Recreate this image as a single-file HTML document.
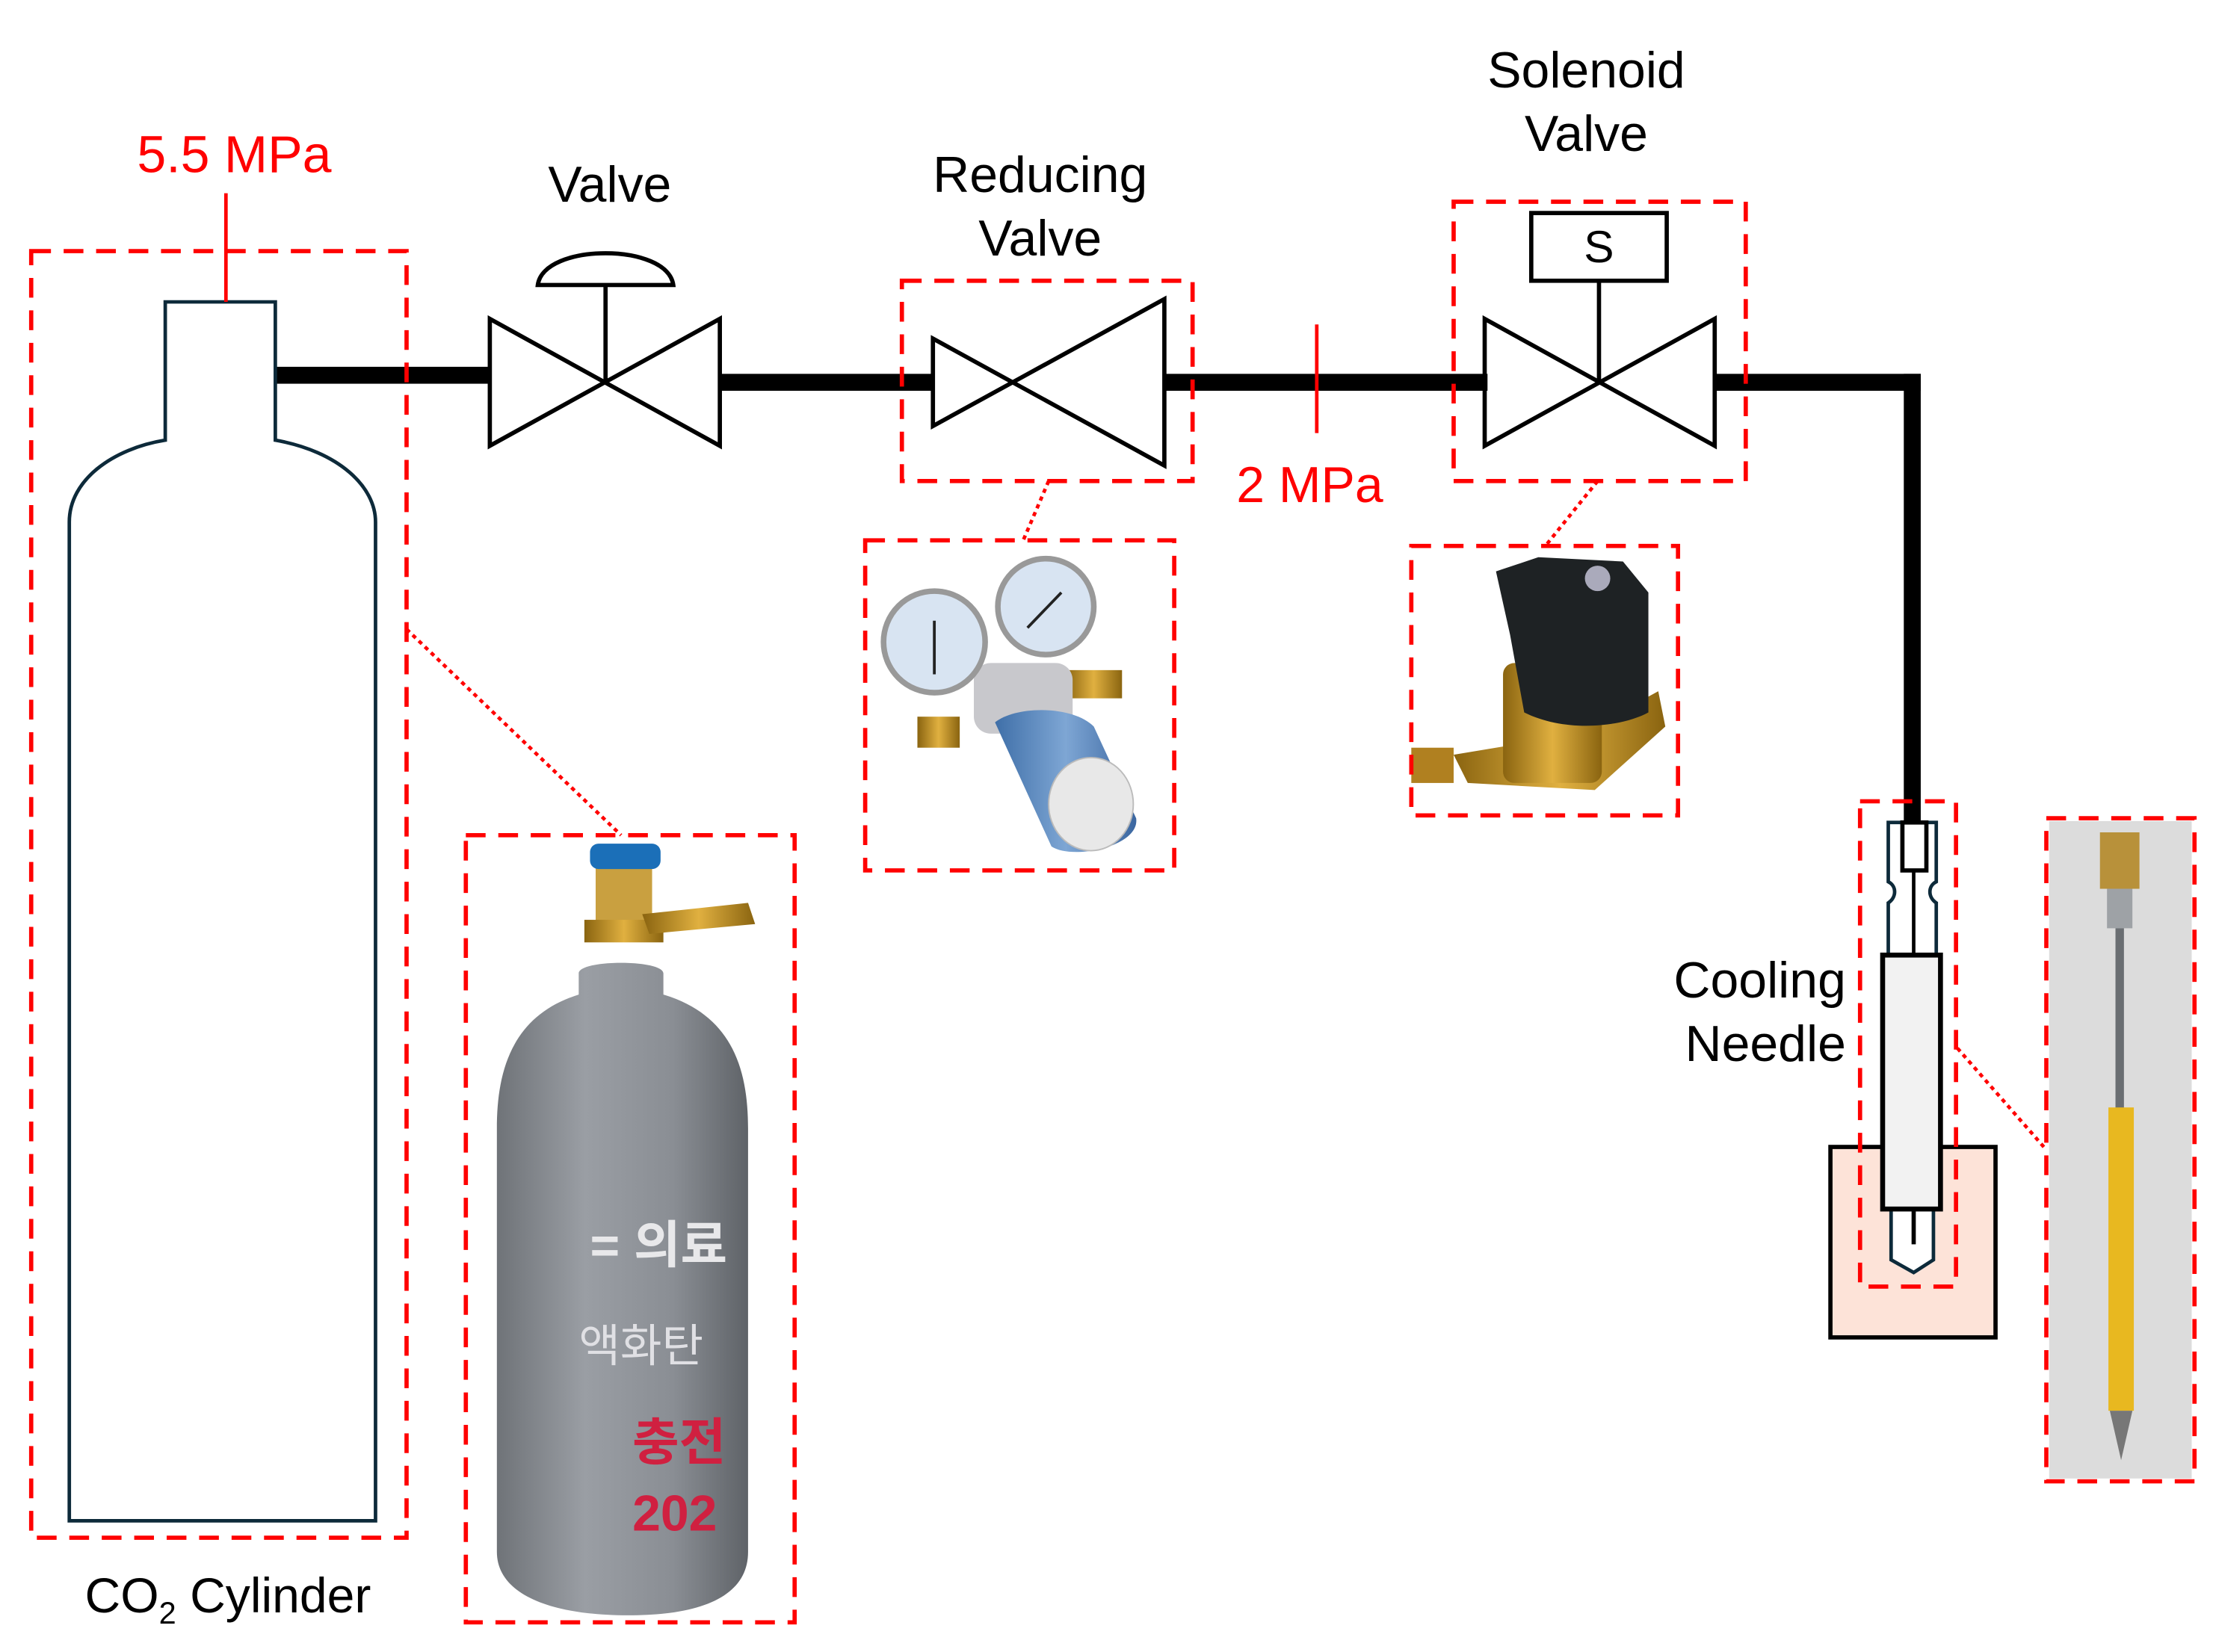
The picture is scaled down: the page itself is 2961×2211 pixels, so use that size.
<!DOCTYPE html>
<html><head><meta charset="utf-8"><style>
html,body{margin:0;padding:0;background:#fff;}
svg{display:block;}
text{font-family:"Liberation Sans","Noto Sans CJK KR",sans-serif;}
</style></head><body>
<svg width="2961" height="2211" viewBox="0 0 1568 1171" xmlns="http://www.w3.org/2000/svg">
<defs>
<linearGradient id="gcyl" x1="0" x2="1"><stop offset="0" stop-color="#6f7378"/><stop offset="0.35" stop-color="#9a9ea4"/><stop offset="0.7" stop-color="#8a8e94"/><stop offset="1" stop-color="#5f6368"/></linearGradient>
<linearGradient id="gblue" x1="0" x2="1"><stop offset="0" stop-color="#3f6fa8"/><stop offset="0.5" stop-color="#7ea6d4"/><stop offset="1" stop-color="#3a66a0"/></linearGradient>
<linearGradient id="gbrass" x1="0" x2="1"><stop offset="0" stop-color="#8a6410"/><stop offset="0.5" stop-color="#e0b040"/><stop offset="1" stop-color="#8a6410"/></linearGradient>
</defs>
<rect width="1568" height="1171" fill="#fff"/>

<!-- pipes -->
<g fill="#000">
<rect x="195" y="260" width="153" height="12"/>
<rect x="510" y="265" width="152" height="12"/>
<rect x="824" y="265" width="230" height="12"/>
<rect x="1214" y="265" width="147" height="12"/>
<rect x="1349" y="265" width="12" height="320"/>
</g>

<!-- cylinder -->
<path d="M117 312 V214 H195 V312 C240 320 266 345 266 370 V1078 H49 V370 C49 340 80 318 117 312 Z" fill="none" stroke="#0d2a3a" stroke-width="2.5"/>
<line x1="160" y1="137" x2="160" y2="214" stroke="#f00" stroke-width="2.5"/>
<text x="97" y="122" font-size="37" fill="#f00">5.5 MPa</text>
<text x="60" y="1143" font-size="35" fill="#000">CO<tspan font-size="22" dy="8">2</tspan><tspan dy="-8"> Cylinder</tspan></text>

<!-- valve -->
<g fill="none" stroke="#000" stroke-width="3">
<path d="M347 226 L510 316 V226 L347 316 Z"/>
<line x1="429" y1="271" x2="429" y2="202"/>
<path d="M381 202 C385 172 473 172 477 202 Z"/>
</g>
<text x="432" y="143" font-size="36" text-anchor="middle">Valve</text>

<!-- reducing valve -->
<g fill="none" stroke="#000" stroke-width="3">
<path d="M661 240 L825 330 V212 L661 302 Z"/>
</g>
<text x="737" y="136" font-size="36" text-anchor="middle">Reducing</text>
<text x="737" y="181" font-size="36" text-anchor="middle">Valve</text>

<!-- 2 MPa -->
<line x1="933" y1="230" x2="933" y2="307" stroke="#f00" stroke-width="2.5"/>
<text x="876" y="356" font-size="36" fill="#f00">2 MPa</text>

<!-- solenoid -->
<g fill="none" stroke="#000" stroke-width="3">
<path d="M1052 226 L1215 316 V226 L1052 316 Z"/>
<line x1="1133" y1="271" x2="1133" y2="199"/>
<rect x="1085" y="151" width="96" height="48" fill="#fff"/>
</g>
<text x="1133" y="186" font-size="32" text-anchor="middle">S</text>
<text x="1124" y="62" font-size="36" text-anchor="middle">Solenoid</text>
<text x="1124" y="107" font-size="36" text-anchor="middle">Valve</text>

<!-- needle -->
<rect x="1297" y="813" width="117" height="135" fill="#fde3d8" stroke="#000" stroke-width="3"/>
<path d="M1338 677 V640 C1344 636 1344 628 1338 625 V583 H1372 V625 C1366 628 1366 636 1372 640 V677" fill="#fff" stroke="#0d2a3a" stroke-width="2.5"/>
<rect x="1348" y="583" width="17" height="34" fill="#fff" stroke="#000" stroke-width="3"/>
<line x1="1356" y1="617" x2="1356" y2="677" stroke="#000" stroke-width="2.5"/>
<path d="M1340 857 V893 L1356 902 L1370 893 V857" fill="#fff" stroke="#0d2a3a" stroke-width="2.5"/>
<line x1="1356" y1="857" x2="1356" y2="882" stroke="#000" stroke-width="3"/>
<rect x="1334" y="677" width="41" height="180" fill="#f2f2f2" stroke="#000" stroke-width="3.5"/>
<text x="1308" y="707" font-size="36" text-anchor="end">Cooling</text>
<text x="1308" y="752" font-size="36" text-anchor="end">Needle</text>

<!-- photo: cylinder -->
<rect x="422" y="612" width="40" height="45" fill="#c9a040"/>
<rect x="414" y="652" width="56" height="16" fill="url(#gbrass)"/>
<path d="M455 648 L530 640 L535 655 L460 662 Z" fill="url(#gbrass)"/>
<rect x="418" y="598" width="50" height="18" rx="6" fill="#1b6fb8"/>
<path d="M410 690 C410 680 470 680 470 690 V705 C520 720 530 760 530 800 V1100 C530 1130 500 1145 445 1145 C390 1145 352 1130 352 1100 V800 C352 760 362 720 410 705 Z" fill="url(#gcyl)"/>
<text x="418" y="895" font-size="36" fill="#e8e8ea" font-weight="bold">= 의료</text>
<text x="410" y="965" font-size="32" fill="#e0e0e4">액화탄</text>
<text x="448" y="1035" font-size="36" fill="#d02040" font-weight="bold">충전</text>
<text x="448" y="1085" font-size="36" fill="#d02040" font-weight="bold">202</text>

<!-- photo: regulator -->
<rect x="650" y="508" width="30" height="22" fill="url(#gbrass)"/>
<rect x="755" y="475" width="40" height="20" fill="url(#gbrass)"/>
<rect x="690" y="470" width="70" height="50" rx="12" fill="#c8c8cc"/>
<path d="M705 512 C720 500 760 500 775 515 L805 580 C808 600 760 610 745 600 Z" fill="url(#gblue)"/>
<ellipse cx="773" cy="570" rx="30" ry="33" fill="#e8e8e8" stroke="#bbb"/>
<circle cx="662" cy="455" r="36" fill="#d8e4f2" stroke="#999" stroke-width="4"/>
<circle cx="741" cy="430" r="34" fill="#d8e4f2" stroke="#999" stroke-width="4"/>
<line x1="662" y1="440" x2="662" y2="478" stroke="#222" stroke-width="2"/>
<line x1="728" y1="445" x2="752" y2="420" stroke="#222" stroke-width="2"/>

<!-- photo: solenoid -->
<path d="M1030 535 L1120 520 L1175 490 L1180 515 L1130 560 L1040 555 Z" fill="url(#gbrass)"/>
<rect x="1065" y="470" width="70" height="85" rx="8" fill="url(#gbrass)"/>
<rect x="1000" y="530" width="30" height="25" fill="#b08020"/>
<path d="M1060 405 L1090 395 L1150 398 L1168 420 V505 C1150 515 1110 520 1080 505 L1070 450 Z" fill="#1e2224"/>
<circle cx="1132" cy="410" r="9" fill="#aab"/>

<!-- photo: needle -->
<rect x="1452" y="582" width="101" height="466" fill="#dcdcdc"/>
<rect x="1488" y="590" width="28" height="40" fill="#b8913a"/>
<rect x="1493" y="630" width="18" height="28" fill="#9ea2a6"/>
<rect x="1499" y="658" width="6" height="130" fill="#6a6e72"/>
<rect x="1494" y="785" width="18" height="215" fill="#e8b820"/>
<path d="M1495 1000 H1511 L1503 1035 Z" fill="#777"/>

<!-- dashed boxes -->
<g fill="none" stroke="#f00" stroke-width="3" stroke-dasharray="14 9">
<rect x="22" y="178" width="266" height="912"/>
<rect x="639" y="199" width="206" height="142"/>
<rect x="1030" y="143" width="207" height="198"/>
<rect x="330" y="592" width="233" height="558"/>
<rect x="613" y="383" width="219" height="234"/>
<rect x="1000" y="387" width="189" height="191"/>
<rect x="1318" y="568" width="68" height="344"/>
<rect x="1450" y="580" width="105" height="470"/>
</g>
<g fill="none" stroke="#f00" stroke-width="2.5" stroke-dasharray="3 3">
<line x1="288" y1="446" x2="440" y2="592"/>
<line x1="743" y1="341" x2="725" y2="383"/>
<line x1="1132" y1="341" x2="1095" y2="387"/>
<line x1="1387" y1="743" x2="1450" y2="815"/>
</g>
</svg>
</body></html>
